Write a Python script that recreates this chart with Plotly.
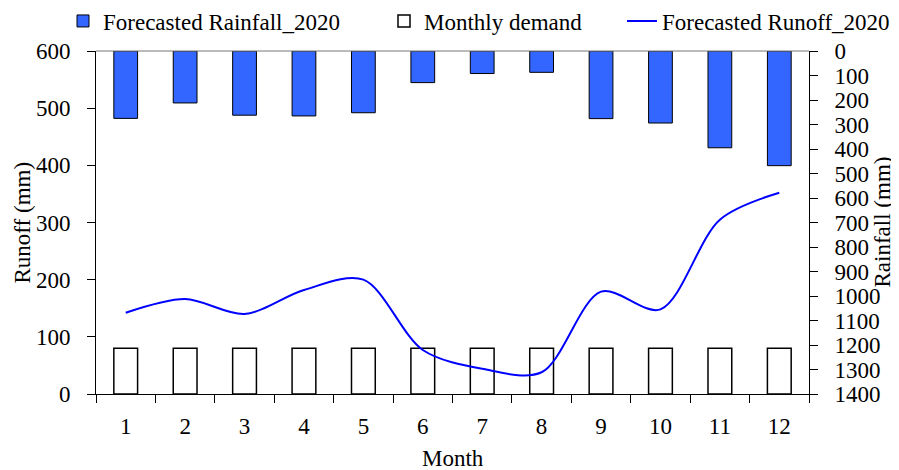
import plotly.graph_objects as go

months = ["1", "2", "3", "4", "5", "6", "7", "8", "9", "10", "11", "12"]
rainfall_2020 = [275, 212, 262, 265, 252, 129, 92, 87, 276, 294, 395, 468]
monthly_demand = [80, 80, 80, 80, 80, 80, 80, 80, 80, 80, 80, 80]
runoff_2020 = [142, 166, 140, 182, 200, 77, 44, 38, 179, 148, 305, 352]

FONT = "Liberation Serif"
FS = 23

fig = go.Figure()
fig.add_trace(go.Bar(
    x=months, y=rainfall_2020, yaxis="y2", name="Forecasted Rainfall_2020",
    width=0.4, marker=dict(color="#3366FF", line=dict(color="#000000", width=1)),
    legend="legend",
))
fig.add_trace(go.Bar(
    x=months, y=monthly_demand, name="Monthly demand",
    width=0.4, marker=dict(color="#FFFFFF", line=dict(color="#000000", width=1.5)),
    legend="legend2",
))
fig.add_trace(go.Scatter(
    x=months, y=runoff_2020, name="Forecasted Runoff_2020", mode="lines",
    line=dict(color="#0000FF", width=2, shape="spline", smoothing=0.9),
    legend="legend3",
))

W, H = 891, 462
PW = 713
leg_common = dict(xref="paper", yref="paper", y=1 + 30 / 343, yanchor="middle",
                  xanchor="left", font=dict(size=FS), bgcolor="rgba(0,0,0,0)",
                  itemwidth=30)

fig.update_layout(
    width=W, height=H,
    margin=dict(l=88, r=90, t=43, b=76, autoexpand=False),
    paper_bgcolor="white", plot_bgcolor="white",
    font=dict(family=FONT, size=FS, color="black"),
    barmode="overlay",
    showlegend=True,
    legend=dict(x=(55 - 88) / PW, **leg_common),
    legend2=dict(x=(376 - 88) / PW, **leg_common),
    legend3=dict(x=(614 - 88) / PW, **leg_common),
    xaxis=dict(
        type="category", range=[-0.5, 11.5], tickson="boundaries", automargin=False,
        ticks="outside", ticklen=8, tickcolor="black", showline=True, linecolor="black",
        linewidth=1, showgrid=False, zeroline=False, ticklabelstandoff=11,
    ),
    yaxis=dict(
        range=[0, 600], tickvals=[0, 100, 200, 300, 400, 500, 600], ticks="outside",
        ticklen=8, tickcolor="black", showline=True, linecolor="black", linewidth=1,
        showgrid=False, zeroline=False, automargin=False, ticklabelstandoff=12,
    ),
    yaxis2=dict(
        overlaying="y", side="right", range=[1400, 0], automargin=False,
        tickvals=list(range(0, 1401, 100)), ticks="outside", ticklen=8, tickcolor="black",
        showline=True, linecolor="black", linewidth=1, showgrid=False, zeroline=False,
        ticklabelstandoff=12,
    ),
    shapes=[dict(type="line", xref="paper", yref="paper", x0=0, x1=1, y0=1, y1=1,
                 line=dict(color="#777777", width=1))],
    annotations=[
        dict(text="Runoff (mm)", xref="paper", yref="paper", x=0, y=0.5, xshift=-74,
             xanchor="center", yanchor="middle", textangle=-90, showarrow=False,
             font=dict(size=FS)),
        dict(text="Rainfall (mm)", xref="paper", yref="paper", x=1, y=0.5, xshift=73,
             xanchor="center", yanchor="middle", textangle=-90, showarrow=False,
             font=dict(size=FS)),
        dict(text="Month", xref="paper", yref="paper", x=0.5, y=0, yshift=-64,
             xanchor="center", yanchor="middle", showarrow=False, font=dict(size=FS)),
    ],
)

fig.write_html("out.html")
